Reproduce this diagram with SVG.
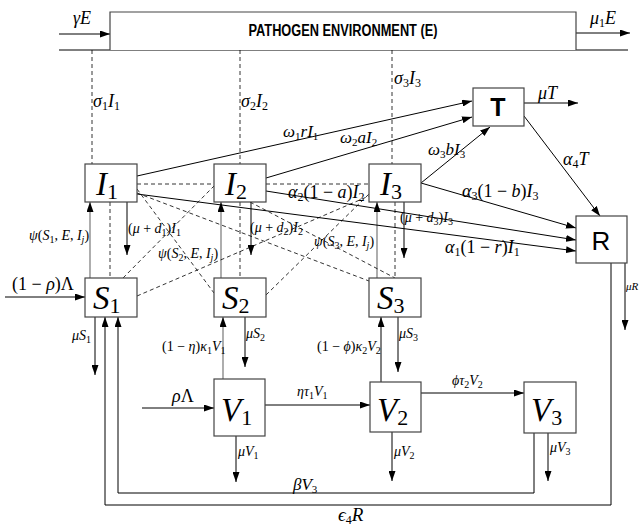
<svg xmlns="http://www.w3.org/2000/svg" width="639" height="527" viewBox="0 0 639 527">
<defs>
<marker id="ah" markerUnits="userSpaceOnUse" markerWidth="10" markerHeight="7" refX="10" refY="3.5" orient="auto"><path d="M0,0 L10,3.5 L0,7 z" fill="#000"/></marker>
<style>
.box{fill:#fff;stroke:#444;stroke-width:1.2}
.ln{fill:none;stroke:#000;stroke-width:1}
.gl{fill:none;stroke:#777;stroke-width:1.2}
.ds{fill:none;stroke:#000;stroke-width:0.8;stroke-dasharray:4,3}
.ar{marker-end:url(#ah)}
text{font-family:"Liberation Serif","DejaVu Serif",serif;fill:#000}
.m{font-style:italic}
.r{font-style:normal}
.big{font-size:33px;font-style:italic}
.sans{font-family:"Liberation Sans",Arial,sans-serif}
</style>
</defs>
<g id="connectors">
<path class="ln" d="M59,50 H628"/>
<path class="ln ar" d="M59,34 H110"/>
<path class="ln ar" d="M576,33 H630"/>
<path class="ds" d="M92,50 V164 M240,50 V164 M392,50 V164"/>
<path class="ds" d="M110,202 V278 M240,202 V278 M395,202 V278"/>
<path class="gl ar" d="M90,278 V202"/>
<path class="gl ar" d="M221,278 V202"/>
<path class="gl ar" d="M377,278 V202"/>
<path class="ln ar" d="M127,202 V255"/>
<path class="ln ar" d="M251,202 V255"/>
<path class="ln ar" d="M404,202 V258"/>
<path class="ds" d="M137,184 H214 M266,184 H369"/>
<path class="ds" d="M137,189 L214,293"/>
<path class="ds" d="M123,278 L214,186"/>
<path class="ds" d="M137,296 L369,196"/>
<path class="ds" d="M137,193 L369,281"/>
<path class="ds" d="M250,202 L395,278"/>
<path class="ds" d="M266,295 L369,194"/>
<path class="ln ar" d="M137,176 L472,101"/>
<path class="ln ar" d="M266,178 L472,117"/>
<path class="ln ar" d="M421,183 L490,127"/>
<path class="ln ar" d="M421,183 L576,228"/>
<path class="ln ar" d="M266,191 L576,240"/>
<path class="ln ar" d="M137,194 L576,251"/>
<path class="ln ar" d="M524,116 L600,216"/>
<path class="ln ar" d="M524,103 H578"/>
<path class="ln ar" d="M625,263 V330"/>
<path class="ln ar" d="M611,263 V505 H105 V317"/>
<path class="ln ar" d="M534,433 V493 H118 V317"/>
<path class="ln ar" d="M5,297 H85"/>
<path class="ln ar" d="M95,317 V375"/>
<path class="gl ar" d="M223,379 V317"/>
<path class="ln ar" d="M245,317 V367"/>
<path class="ln ar" d="M381,382 V317"/>
<path class="ln ar" d="M398,317 V372"/>
<path class="ln ar" d="M142,408 H214"/>
<path class="ln ar" d="M265,405 H370"/>
<path class="ln ar" d="M421,393 H524"/>
<path class="ln ar" d="M236,436 V482"/>
<path class="ln ar" d="M392,432 V481"/>
<path class="ln ar" d="M548,433 V481"/>
</g>
<g id="E">
<path d="M110,50 V12 H576 V50" fill="#fff" stroke="#444" stroke-width="1.2"/>
<text class="sans" x="343" y="35.5" font-size="16" font-weight="bold" text-anchor="middle" textLength="189" lengthAdjust="spacingAndGlyphs">PATHOGEN ENVIRONMENT (E)</text>
</g>
<g id="I1"><rect class="box" x="85" y="164" width="52" height="38"/><text class="big" x="96" y="195">I<tspan class="r" font-size="22" dy="4">1</tspan></text></g>
<g id="I2"><rect class="box" x="214" y="164" width="52" height="38"/><text class="big" x="225" y="195">I<tspan class="r" font-size="22" dy="4">2</tspan></text></g>
<g id="I3"><rect class="box" x="369" y="164" width="52" height="38"/><text class="big" x="380" y="195">I<tspan class="r" font-size="22" dy="4">3</tspan></text></g>
<g id="S1"><rect class="box" x="85" y="278" width="52" height="39"/><text class="big" x="93" y="309">S<tspan class="r" font-size="22" dy="4">1</tspan></text></g>
<g id="S2"><rect class="box" x="214" y="278" width="52" height="39"/><text class="big" x="222" y="309">S<tspan class="r" font-size="22" dy="4">2</tspan></text></g>
<g id="S3"><rect class="box" x="369" y="278" width="52" height="39"/><text class="big" x="377" y="309">S<tspan class="r" font-size="22" dy="4">3</tspan></text></g>
<g id="V1"><rect class="box" x="214" y="379" width="51" height="57"/><text class="big" x="221" y="421">V<tspan class="r" font-size="22" dy="4">1</tspan></text></g>
<g id="V2"><rect class="box" x="370" y="382" width="51" height="50"/><text class="big" x="377" y="421">V<tspan class="r" font-size="22" dy="4">2</tspan></text></g>
<g id="V3"><rect class="box" x="524" y="382" width="52" height="51"/><text class="big" x="531" y="421">V<tspan class="r" font-size="22" dy="4">3</tspan></text></g>
<g id="T"><rect class="box" x="473" y="88" width="51" height="38"/><text class="sans" x="498" y="116" font-size="25" font-weight="bold" text-anchor="middle">T</text></g>
<g id="R"><rect class="box" x="576" y="216" width="51" height="47"/><text class="sans" x="601" y="250" font-size="26" text-anchor="middle">R</text></g>
<g id="labels">
<text class="m" x="73" y="24" font-size="18">γE</text>
<text class="m" x="590" y="24" font-size="18">μ<tspan class="r" font-size="12" dy="3">1</tspan><tspan dy="-3">E</tspan></text>
<text class="m" x="93" y="107" font-size="18">σ<tspan class="r" font-size="12" dy="3">1</tspan><tspan dy="-3">I</tspan><tspan class="r" font-size="12" dy="3">1</tspan></text>
<text class="m" x="241" y="107" font-size="18">σ<tspan class="r" font-size="12" dy="3">2</tspan><tspan dy="-3">I</tspan><tspan class="r" font-size="12" dy="3">2</tspan></text>
<text class="m" x="394" y="84" font-size="18">σ<tspan class="r" font-size="12" dy="3">3</tspan><tspan dy="-3">I</tspan><tspan class="r" font-size="12" dy="3">3</tspan></text>
<text class="m" x="283" y="137" font-size="17">ω<tspan class="r" font-size="11" dy="3">1</tspan><tspan dy="-3">rI</tspan><tspan class="r" font-size="11" dy="3">1</tspan></text>
<text class="m" x="340" y="143" font-size="17">ω<tspan class="r" font-size="11" dy="3">2</tspan><tspan dy="-3">aI</tspan><tspan class="r" font-size="11" dy="3">2</tspan></text>
<text class="m" x="428" y="155" font-size="17">ω<tspan class="r" font-size="11" dy="3">3</tspan><tspan dy="-3">bI</tspan><tspan class="r" font-size="11" dy="3">3</tspan></text>
<text class="m" x="538" y="99" font-size="18">μT</text>
<text class="m" x="563" y="165" font-size="18">α<tspan class="r" font-size="12" dy="3">4</tspan><tspan dy="-3">T</tspan></text>
<text class="m" x="462" y="197" font-size="18">α<tspan class="r" font-size="12" dy="3">3</tspan><tspan class="r" dy="-3">(1 − </tspan>b<tspan class="r">)</tspan>I<tspan class="r" font-size="12" dy="3">3</tspan></text>
<text class="m" x="288" y="198" font-size="18">α<tspan class="r" font-size="12" dy="3">2</tspan><tspan class="r" dy="-3">(1 − </tspan>a<tspan class="r">)</tspan>I<tspan class="r" font-size="12" dy="3">2</tspan></text>
<text class="m" x="445" y="253" font-size="18">α<tspan class="r" font-size="12" dy="3">1</tspan><tspan class="r" dy="-3">(1 − </tspan>r<tspan class="r">)</tspan>I<tspan class="r" font-size="12" dy="3">1</tspan></text>
<text class="r" x="128" y="233" font-size="14">(<tspan class="m">μ</tspan> + <tspan class="m">d</tspan><tspan font-size="10" dy="3">1</tspan><tspan dy="-3">)</tspan><tspan class="m">I</tspan><tspan font-size="10" dy="3">1</tspan></text>
<text class="r" x="250" y="232" font-size="14">(<tspan class="m">μ</tspan> + <tspan class="m">d</tspan><tspan font-size="10" dy="3">2</tspan><tspan dy="-3">)</tspan><tspan class="m">I</tspan><tspan font-size="10" dy="3">2</tspan></text>
<text class="r" x="400" y="222" font-size="14">(<tspan class="m">μ</tspan> + <tspan class="m">d</tspan><tspan font-size="10" dy="3">3</tspan><tspan dy="-3">)</tspan><tspan class="m">I</tspan><tspan font-size="10" dy="3">3</tspan></text>
<text class="r" x="29" y="240" font-size="14"><tspan class="m">ψ</tspan>(<tspan class="m">S</tspan><tspan font-size="10" dy="3">1</tspan><tspan dy="-3">, </tspan><tspan class="m">E</tspan>, <tspan class="m">I</tspan><tspan class="m" font-size="10" dy="3">j</tspan><tspan dy="-3">)</tspan></text>
<text class="r" x="158" y="258" font-size="14"><tspan class="m">ψ</tspan>(<tspan class="m">S</tspan><tspan font-size="10" dy="3">2</tspan><tspan dy="-3">, </tspan><tspan class="m">E</tspan>, <tspan class="m">I</tspan><tspan class="m" font-size="10" dy="3">j</tspan><tspan dy="-3">)</tspan></text>
<text class="r" x="314" y="246" font-size="14"><tspan class="m">ψ</tspan>(<tspan class="m">S</tspan><tspan font-size="10" dy="3">3</tspan><tspan dy="-3">, </tspan><tspan class="m">E</tspan>, <tspan class="m">I</tspan><tspan class="m" font-size="10" dy="3">j</tspan><tspan dy="-3">)</tspan></text>
<text class="r" x="12" y="290" font-size="18">(1 − <tspan class="m">ρ</tspan>)Λ</text>
<text class="m" x="72" y="340" font-size="14">μS<tspan class="r" font-size="10" dy="3">1</tspan></text>
<text class="m" x="246" y="338" font-size="14">μS<tspan class="r" font-size="10" dy="3">2</tspan></text>
<text class="m" x="399" y="338" font-size="14">μS<tspan class="r" font-size="10" dy="3">3</tspan></text>
<text class="r" x="162" y="351" font-size="14">(1 − <tspan class="m">η</tspan>)<tspan class="m">κ</tspan><tspan font-size="10" dy="3">1</tspan><tspan class="m" dy="-3">V</tspan><tspan font-size="10" dy="3">1</tspan></text>
<text class="r" x="317" y="351" font-size="14">(1 − <tspan class="m">ϕ</tspan>)<tspan class="m">κ</tspan><tspan font-size="10" dy="3">2</tspan><tspan class="m" dy="-3">V</tspan><tspan font-size="10" dy="3">2</tspan></text>
<text class="m" x="172" y="402" font-size="18">ρ<tspan class="r">Λ</tspan></text>
<text class="m" x="297" y="396" font-size="14">ητ<tspan class="r" font-size="10" dy="3">1</tspan><tspan dy="-3">V</tspan><tspan class="r" font-size="10" dy="3">1</tspan></text>
<text class="m" x="452" y="385" font-size="14">ϕτ<tspan class="r" font-size="10" dy="3">2</tspan><tspan dy="-3">V</tspan><tspan class="r" font-size="10" dy="3">2</tspan></text>
<text class="m" x="238" y="456" font-size="14">μV<tspan class="r" font-size="10" dy="3">1</tspan></text>
<text class="m" x="394" y="456" font-size="14">μV<tspan class="r" font-size="10" dy="3">2</tspan></text>
<text class="m" x="550" y="452" font-size="14">μV<tspan class="r" font-size="10" dy="3">3</tspan></text>
<text class="m" x="293" y="490" font-size="17">βV<tspan class="r" font-size="11" dy="3">3</tspan></text>
<text class="m" x="338" y="521" font-size="19">ϵ<tspan class="r" font-size="12" dy="3">4</tspan><tspan dy="-3">R</tspan></text>
<text class="m" x="626" y="290" font-size="11">μR</text>
</g>
</svg>
